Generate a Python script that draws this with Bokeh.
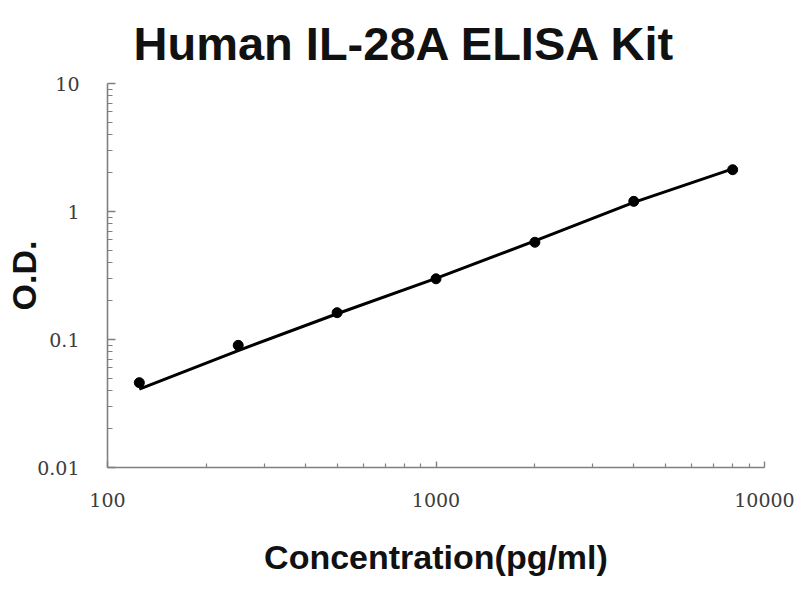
from bokeh.plotting import figure
from bokeh.models import Range1d, FixedTicker
from bokeh.embed import file_html
from bokeh.resources import INLINE

# standard concentrations (pg/ml) and measured O.D.
conc = [125, 250, 500, 1000, 2000, 4000, 8000]
od = [0.046, 0.090, 0.162, 0.298, 0.575, 1.20, 2.12]

# fitted standard curve
fit_conc = [125, 250, 500, 1000, 2000, 4000, 8000]
fit_od = [0.041, 0.082, 0.159, 0.300, 0.590, 1.18, 2.15]

x_ticks = [100, 1000, 10000]
x_tick_labels = ["100", "1000", "10000"]
y_ticks = [0.01, 0.1, 1, 10]
y_tick_labels = ["0.01", "0.1", "1", "10"]

title = "Human IL-28A ELISA Kit"
x_label = "Concentration(pg/ml)"
y_label = "O.D."

# minor ticks at 2..9 of every decade
x_minor = [m * d for d in (100, 1000) for m in range(2, 10)]
y_minor = [m * d for d in (0.01, 0.1, 1) for m in range(2, 10)]

p = figure(width=800, height=600,
           x_axis_type="log", y_axis_type="log",
           x_range=Range1d(100, 10000), y_range=Range1d(0.01, 10),
           output_backend="svg", toolbar_location=None,
           min_border_left=107, min_border_right=36,
           min_border_top=83, min_border_bottom=133)

p.outline_line_color = None
p.grid.visible = False
p.background_fill_color = "white"
p.border_fill_color = "white"

# title
p.title.text = title
p.title.text_font = "Liberation Sans"
p.title.text_font_style = "bold"
p.title.text_font_size = "47px"
p.title.text_color = "#111111"
p.title.align = "left"
p.title.offset = 26
p.title.standoff = 28

# axes
p.xaxis.ticker = FixedTicker(ticks=x_ticks, minor_ticks=x_minor)
p.yaxis.ticker = FixedTicker(ticks=y_ticks, minor_ticks=y_minor)
p.xaxis.major_label_overrides = dict(zip(x_ticks, x_tick_labels))
p.yaxis.major_label_overrides = dict(zip(y_ticks, y_tick_labels))

for ax in (p.xaxis, p.yaxis):
    ax.axis_line_color = "#808080"
    ax.axis_line_width = 1.6
    ax.major_tick_line_color = "#808080"
    ax.minor_tick_line_color = "#808080"
    ax.major_tick_line_width = 1.4
    ax.minor_tick_line_width = 1.2
    ax.major_tick_out = 0
    ax.minor_tick_out = 0
    ax.major_label_text_font = "DejaVu Serif"
    ax.major_label_text_font_size = "19px"
    ax.major_label_text_color = "#3c3c3c"
    ax.axis_label_text_font = "Liberation Sans"
    ax.axis_label_text_font_style = "bold"
    ax.axis_label_text_font_size = "34px"
    ax.axis_label_text_color = "#111111"

p.xaxis.major_tick_in = 6
p.xaxis.minor_tick_in = 4
p.yaxis.major_tick_in = 8
p.yaxis.minor_tick_in = 5
p.xaxis.major_label_standoff = 25
p.yaxis.major_label_standoff = 28

p.xaxis.axis_label = x_label
p.xaxis.axis_label_standoff = 28
p.yaxis.axis_label = y_label
p.yaxis.axis_label_text_line_height = 1.0
p.yaxis.axis_label_standoff = -9

# fitted line and measured points
p.line(fit_conc, fit_od, line_color="black", line_width=3)
p.scatter(conc, od, size=10, fill_color="black", line_color="black")

open("out.html", "w").write(file_html(p, INLINE))
